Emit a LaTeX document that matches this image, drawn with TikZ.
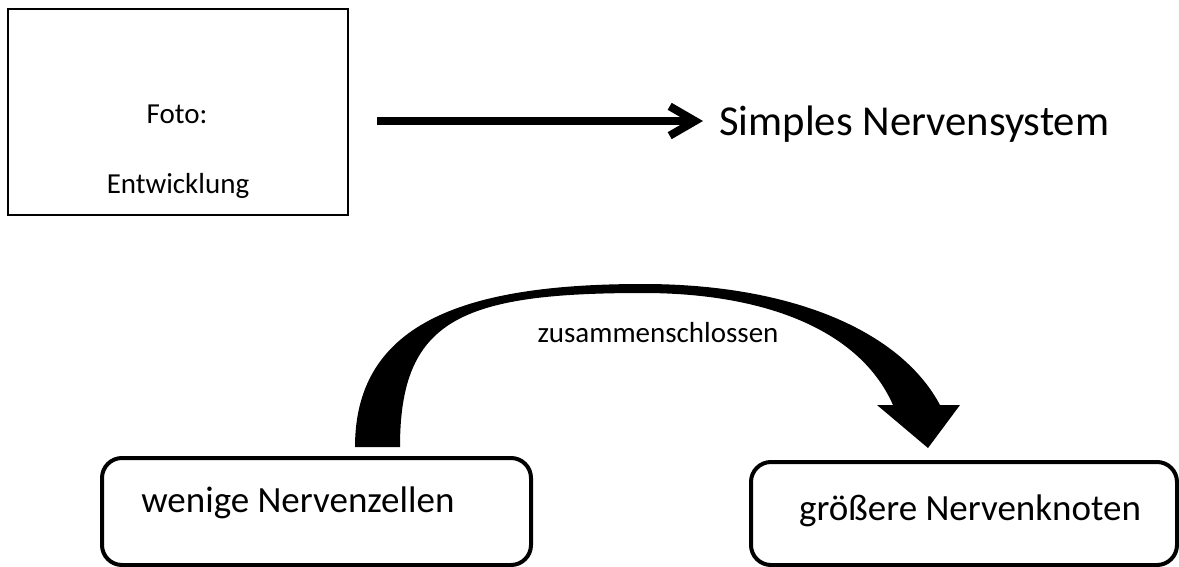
\documentclass[tikz,border=0pt]{standalone}
\usepackage{fontspec}
\setmainfont{Carlito}
\usetikzlibrary{arrows.meta}
\begin{document}
\begin{tikzpicture}[x=.75pt,y=-.75pt,>={Straight Barb[length=19pt,width=22pt]},
	kasten/.style={draw,line width=3pt,rounded corners=15pt,inner sep=0pt},
	klein/.style={font=\fontsize{21.75}{26}\selectfont,inner sep=0pt},
	gross/.style={font=\fontsize{27.75}{33}\selectfont,inner sep=0pt}]
	\useasboundingbox (0,0) rectangle (1179,567);
	\node[draw,line width=.8pt,minimum width=255pt,minimum height=154.5pt] (fotobox) at (178,112) {};
	\node[klein,anchor=base] (foto) at (177,123) {Foto:};
	\node[klein,anchor=base] (entwicklung) at (178,193) {Entwicklung};
	\node[anchor=base west,inner sep=0pt,font=\fontsize{32}{38}\selectfont] (simples) at (719,136) {Simples Nervensystem};
	\coordinate (pfeilanfang) at (377,121);
	\coordinate (pfeilende) at (703,121);
	\draw[->,line width=6pt] (pfeilanfang) -- (pfeilende);
	\fill[line join=round] (355,447) .. controls (355,320) and (470,284) .. (643,284)
		.. controls (790,284) and (900,330) .. (940,405)
		-- (960,405) -- (928,448) -- (877,405) -- (893,405)
		.. controls (860,330) and (765,293) .. (643,293)
		.. controls (460,293) and (400,320) .. (400,447) -- cycle;
	\node[klein,anchor=base] (zusammen) at (658,342) {zusammenschlossen};
	\node[kasten,minimum width=321.75pt,minimum height=80.25pt] (links) at (316.5,511.5) {};
	\node[gross,anchor=base west] (wenige) at (141,512) {wenige Nervenzellen};
	\node[kasten,minimum width=319.5pt,minimum height=77.25pt] (rechts) at (964,513.5) {};
	\node[gross,anchor=base] (groesser) at (970,520) {größere Nervenknoten};
\end{tikzpicture}
\end{document}
